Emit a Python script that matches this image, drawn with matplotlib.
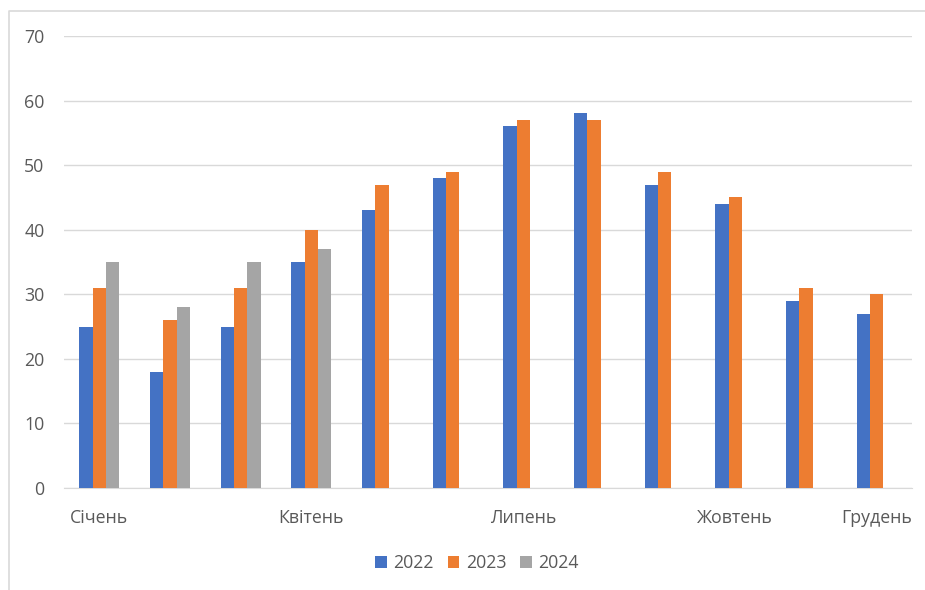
import matplotlib.pyplot as plt
import matplotlib.lines as mlines
import numpy as np

months = ['Січень', 'Лютий', 'Березень', 'Квітень', 'Травень', 'Червень',
          'Липень', 'Серпень', 'Вересень', 'Жовтень', 'Листопад', 'Грудень']
shown_labels = ['Січень', '', '', 'Квітень', '', '', 'Липень', '', '', 'Жовтень', '', 'Грудень']
v2022 = [25, 18, 25, 35, 43, 48, 56, 58, 47, 44, 29, 27]
v2023 = [31, 26, 31, 40, 47, 49, 57, 57, 49, 45, 31, 30]
v2024 = [35, 28, 35, 37]

colors = {'2022': '#4472c4', '2023': '#ed7d31', '2024': '#a5a5a5'}
txt = '#595959'

plt.rcParams['font.family'] = ['Open Sans', 'DejaVu Sans']

fig = plt.figure(figsize=(9.25, 5.9), dpi=100)
# chart border: only top and left edges are visible in the crop
fig.lines.append(mlines.Line2D([8.5 / 925, 8.5 / 925, 1.0], [0.0, 1 - 11 / 590, 1 - 11 / 590],
                               transform=fig.transFigure, color='#d9d9d9', linewidth=1.2))
ax = fig.add_axes([64 / 925, 102 / 590, 848 / 925, 452 / 590])

x = np.arange(len(months))
w = 0.19
ax.bar(x - w, v2022, w, color=colors['2022'], label='2022', zorder=3)
ax.bar(x, v2023, w, color=colors['2023'], label='2023', zorder=3)
ax.bar(np.arange(len(v2024)) + w, v2024, w, color=colors['2024'], label='2024', zorder=3)

ax.set_xlim(-0.5, len(months) - 0.5)
ax.set_ylim(0, 70)
ax.set_yticks(range(0, 71, 10))
ax.grid(axis='y', color='#d9d9d9', linewidth=1, zorder=0)
ax.set_xticks(x)
ax.set_xticklabels(shown_labels)
ax.tick_params(axis='both', length=0, colors=txt, labelsize=12.8)
ax.tick_params(axis='x', pad=15)
ax.tick_params(axis='y', pad=14)
for s in ['top', 'right', 'left']:
    ax.spines[s].set_visible(False)
ax.spines['bottom'].set_color('#d9d9d9')

leg = ax.legend(loc='center', bbox_to_anchor=(477 / 925, 27 / 590),
                bbox_transform=fig.transFigure, ncol=3, frameon=False,
                fontsize=12.8, handlelength=0.65, handleheight=0.65,
                handletextpad=0.35, columnspacing=0.8)
for t in leg.get_texts():
    t.set_color(txt)

fig.savefig('out.png', dpi=100)
